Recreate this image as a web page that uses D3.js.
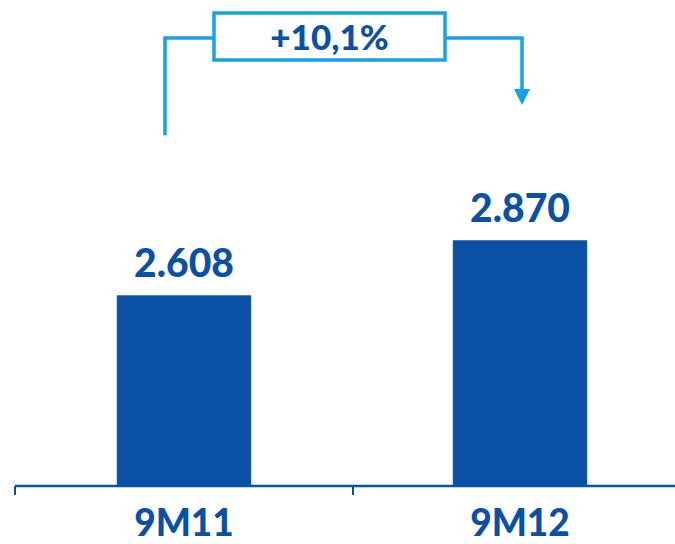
<!DOCTYPE html>
<html><head><meta charset="utf-8">
<script src="https://cdn.jsdelivr.net/npm/d3@7"></script>
<style>body{margin:0;background:#fff}svg{display:block}</style>
</head><body>
<svg id="c" width="675" height="544"></svg>
<script>
const categories = ["9M11", "9M12"];
const values = [2608, 2870];
const valueLabels = ["2.608", "2.870"];
const changeLabel = "+10,1%";

const svg = d3.select("#c");
const dark = "#0a50a4", cyan = "#16a3e6";
const font = "Lato, 'Open Sans', sans-serif";

const x = d3.scaleBand().domain(categories).range([16, 688]).paddingInner(0.6).paddingOuter(0.3);
const y = d3.scaleLinear().domain([1700, 4014]).range([486, 0]);

// bars
svg.selectAll("rect.bar").data(values).join("rect")
  .attr("class","bar")
  .attr("x",(d,i)=>x(categories[i]))
  .attr("width",x.bandwidth())
  .attr("y",d=>y(d))
  .attr("height",d=>y.range()[0]-y(d))
  .attr("fill",dark);

// value labels
svg.selectAll("text.val").data(values).join("text")
  .attr("class","val")
  .attr("x",(d,i)=>x(categories[i])+x.bandwidth()/2)
  .attr("y",d=>y(d)-18)
  .attr("text-anchor","middle")
  .attr("font-family",font).attr("font-weight",900).attr("font-size",39)
  .attr("fill",dark)
  .text((d,i)=>valueLabels[i]);

// axis
const axisG = svg.append("g").attr("transform","translate(0,486)");
axisG.append("line").attr("x1",15).attr("x2",675).attr("y1",0).attr("y2",0)
  .attr("stroke",dark).attr("stroke-width",2.5);
[15, 353].forEach(t=>{
  axisG.append("line").attr("x1",t).attr("x2",t).attr("y1",0).attr("y2",9)
    .attr("stroke",dark).attr("stroke-width",2);
});
svg.selectAll("text.cat").data(categories).join("text")
  .attr("class","cat")
  .attr("x",d=>x(d)+x.bandwidth()/2)
  .attr("y",536)
  .attr("text-anchor","middle")
  .attr("font-family",font).attr("font-weight",900).attr("font-size",37)
  .attr("fill",dark)
  .text(d=>d);

// change annotation bracket
const lx = 165, rx = 522, hy = 38;
const bx0 = 214, bx1 = 445, by0 = 13, by1 = 60;
const g = svg.append("g").attr("fill","none").attr("stroke",cyan).attr("stroke-width",3.5);
g.append("path").attr("d",`M${lx},${y(values[0])-160}V${hy}H${bx0}`);
g.append("path").attr("d",`M${bx1},${hy}H${rx}V${91}`);
g.append("rect").attr("x",bx0).attr("y",by0).attr("width",bx1-bx0).attr("height",by1-by0);
svg.append("path").attr("d",`M${rx-8},${89}L${rx+8},${89}L${rx},${105}Z`).attr("fill",cyan);
svg.append("text").attr("x",(bx0+bx1)/2).attr("y",50)
  .attr("text-anchor","middle")
  .attr("font-family",font).attr("font-weight",900).attr("font-size",35)
  .attr("fill",dark).text(changeLabel);
</script>
</body></html>
